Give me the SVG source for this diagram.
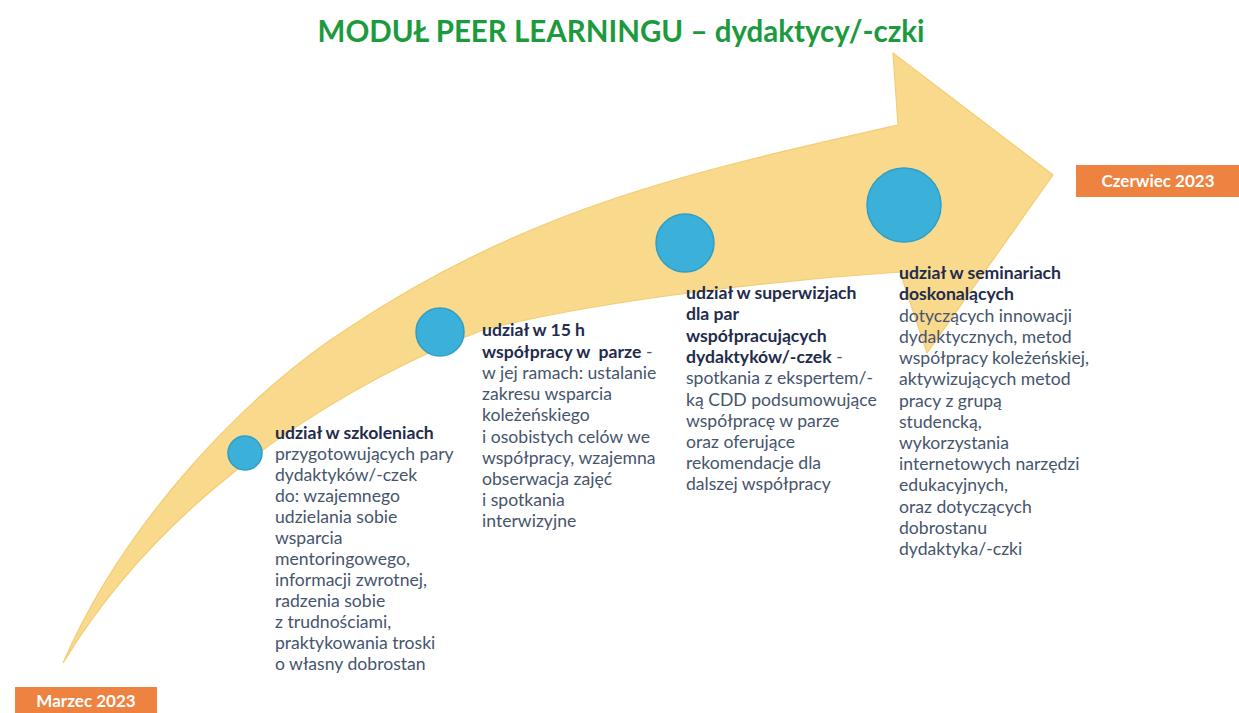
<svg xmlns="http://www.w3.org/2000/svg" width="1239" height="713" viewBox="0 0 1239 713">
<style>
.title{font-family:Lato,"Liberation Sans",sans-serif;font-weight:bold;font-size:29.5px;fill:#1C9A3E}
.t{font-family:Lato,"Liberation Sans",sans-serif;font-size:17.6px;fill:#46556C}
.b{font-weight:bold;fill:#1F2C4C}
.dot{fill:#3BB0D9;stroke:#2F9FC6;stroke-width:1.5}
.lbl{fill:#EE8240}
.lt{font-family:Lato,"Liberation Sans",sans-serif;font-weight:bold;font-size:17px;fill:#FFFFFF;text-anchor:middle}
</style>
<rect width="1239" height="713" fill="#FFFFFF"/>
<text class="title" x="621" y="42" text-anchor="middle">MODUŁ PEER LEARNINGU – dydaktycy/-czki</text>
<g id="connectors">
<path d="M 63 663 C 125 520 250 390 350 327 C 530 207 698 170 898 125 L 893 53 L 1053 175 L 927 353 L 900 272 C 780 280 600 300 483 330 C 380 370 180 470 63 663 Z" fill="#F9D98C" stroke="#F3CD72" stroke-width="1.2" stroke-linejoin="miter"/>
</g>
<g id="node1">
<circle class="dot" cx="245" cy="453" r="17"/>
<text class="t">
<tspan class="b" x="275" y="439">udział w szkoleniach</tspan>
<tspan x="275" y="460">przygotowujących pary</tspan>
<tspan x="275" y="481">dydaktyków/-czek</tspan>
<tspan x="275" y="502">do: wzajemnego</tspan>
<tspan x="275" y="523">udzielania sobie</tspan>
<tspan x="275" y="544">wsparcia</tspan>
<tspan x="275" y="565">mentoringowego,</tspan>
<tspan x="275" y="586">informacji zwrotnej,</tspan>
<tspan x="275" y="607">radzenia sobie</tspan>
<tspan x="275" y="628">z trudnościami,</tspan>
<tspan x="275" y="649">praktykowania troski</tspan>
<tspan x="275" y="670">o własny dobrostan</tspan>
</text>
</g>
<g id="node2">
<circle class="dot" cx="440" cy="332" r="24"/>
<text class="t">
<tspan class="b" x="482" y="336">udział w 15 h</tspan>
<tspan x="482" y="358"><tspan class="b">współpracy w&#160; parze</tspan> -</tspan>
<tspan x="482" y="379">w jej ramach: ustalanie</tspan>
<tspan x="482" y="400">zakresu wsparcia</tspan>
<tspan x="482" y="421">koleżeńskiego</tspan>
<tspan x="482" y="443">i osobistych celów we</tspan>
<tspan x="482" y="464">współpracy, wzajemna</tspan>
<tspan x="482" y="485">obserwacja zajęć</tspan>
<tspan x="482" y="506">i spotkania</tspan>
<tspan x="482" y="527">interwizyjne</tspan>
</text>
</g>
<g id="node3">
<circle class="dot" cx="685" cy="243" r="29"/>
<text class="t">
<tspan class="b" x="686" y="299">udział w superwizjach</tspan>
<tspan class="b" x="686" y="320">dla par</tspan>
<tspan class="b" x="686" y="342">współpracujących</tspan>
<tspan x="686" y="363"><tspan class="b">dydaktyków/-czek</tspan> -</tspan>
<tspan x="686" y="384">spotkania z ekspertem/-</tspan>
<tspan x="686" y="406">ką CDD podsumowujące</tspan>
<tspan x="686" y="427">współpracę w parze</tspan>
<tspan x="686" y="448">oraz oferujące</tspan>
<tspan x="686" y="469">rekomendacje dla</tspan>
<tspan x="686" y="490">dalszej współpracy</tspan>
</text>
</g>
<g id="node4">
<circle class="dot" cx="904" cy="205" r="37"/>
<text class="t">
<tspan class="b" x="899" y="279">udział w seminariach</tspan>
<tspan class="b" x="899" y="300">doskonalących</tspan>
<tspan x="899" y="322">dotyczących innowacji</tspan>
<tspan x="899" y="343">dydaktycznych, metod</tspan>
<tspan x="899" y="364">współpracy koleżeńskiej,</tspan>
<tspan x="899" y="385">aktywizujących metod</tspan>
<tspan x="899" y="407">pracy z grupą</tspan>
<tspan x="899" y="428">studencką,</tspan>
<tspan x="899" y="449">wykorzystania</tspan>
<tspan x="899" y="470">internetowych narzędzi</tspan>
<tspan x="899" y="491">edukacyjnych,</tspan>
<tspan x="899" y="513">oraz dotyczących</tspan>
<tspan x="899" y="534">dobrostanu</tspan>
<tspan x="899" y="555">dydaktyka/-czki</tspan>
</text>
</g>
<g id="label-start">
<rect class="lbl" x="15" y="687" width="142" height="30"/>
<text class="lt" x="86" y="707">Marzec 2023</text>
</g>
<g id="label-end">
<rect class="lbl" x="1076" y="165" width="163" height="32"/>
<text class="lt" x="1158" y="187">Czerwiec 2023</text>
</g>
</svg>
